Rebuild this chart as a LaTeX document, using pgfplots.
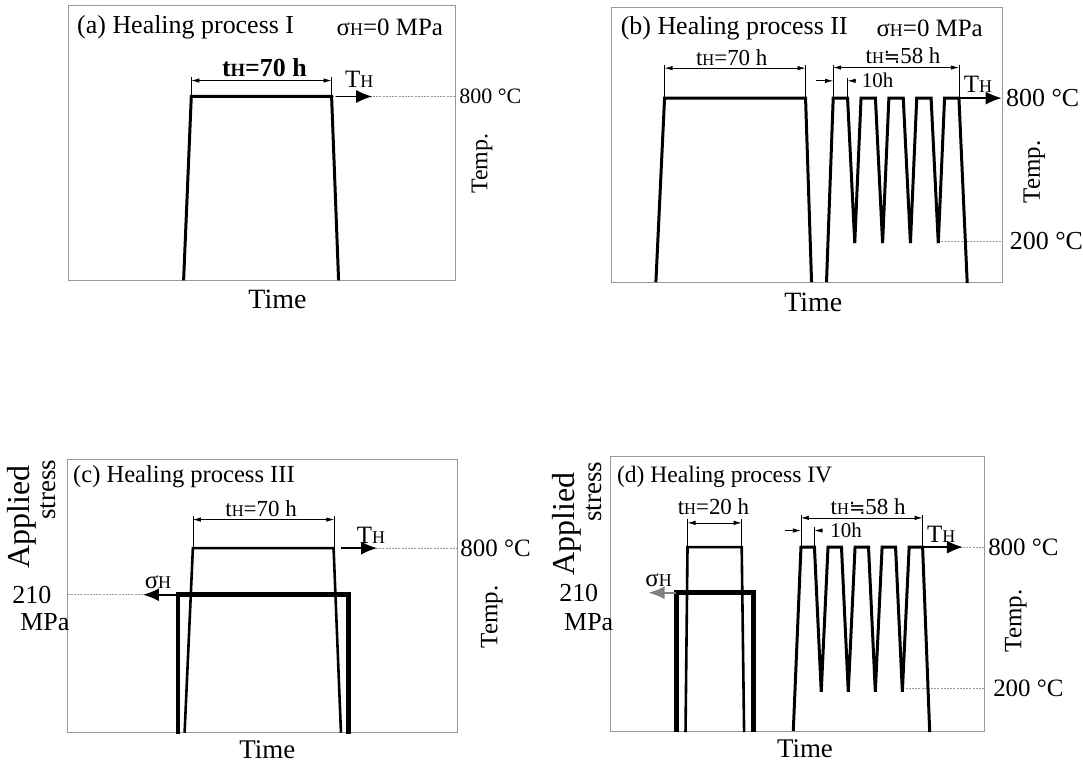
\documentclass[border=0pt]{standalone}
\usepackage{fontspec}
\setmainfont{Liberation Serif}
\newfontfamily\dvs{DejaVu Sans}
\usepackage{graphicx}
\usepackage{pgfplots}
\pgfplotsset{compat=1.18}
\usetikzlibrary{arrows.meta}

\newcommand\fs[1]{\fontsize{#1}{#1}\selectfont}
\newcommand\sH{\scalebox{0.72}{H}}
\newcommand\approxeq{{\dvs\scalebox{0.85}{≒}}}

% axis units are reference pixels, origin at the lower left of each box
\pgfplotsset{
  panel/.style={scale only axis, anchor=south west, xmin=0, ymin=0,
    axis line style={draw=gray!80, line width=0.5bp}, ticks=none, clip=false},
  temp/.style={black, line width=1.5bp, no marks},
  temp2/.style={black, line width=1.3bp, no marks},
  stress/.style={black, line width=2.3bp, no marks},
}
\tikzset{
  dim/.style={black, line width=0.35bp},
  dimarr/.style={dim, {Latex[length=4bp,width=2.2bp]}-{Latex[length=4bp,width=2.2bp]}},
  onearr/.style={dim, -{Latex[length=4bp,width=2.2bp]}},
  ref/.style={gray!80, line width=0.5bp, dash pattern=on 1bp off 0.6bp},
  bigarr/.style={black, line width=0.8bp, -{Latex[length=8bp,width=6.5bp]}},
}

\begin{document}
\begin{tikzpicture}[every node/.append style={inner sep=0pt}]
\path (0,0) rectangle (541.5bp,-383.5bp);

% (a)
\begin{axis}[panel, at={(34.15bp,-140.5bp)}, width=194.2bp, height=137.5bp,
  xmax=388.4, ymax=275]
\draw[ref] (264,184.3) -- (388.4,184.3);
\addplot[temp] coordinates {(115.7,0) (123.4,184.3) (264,184.3) (271,0)};
\draw[dim] (123.4,184.3) -- (123.4,204) (264,184.3) -- (264,204);
\draw[dimarr] (123.4,200.3) -- (264,200.3);
\node[font=\fs{13bp}\bfseries] at (196.7,213) {t\sH=70 h};
\draw[bigarr] (268.4,184.3) -- (304.7,184.3);
\node[font=\fs{12.5bp}] at (291.7,201) {T\sH};
\node[anchor=west, font=\fs{13bp}] at (8.7,254) {(a) Healing process I};
\node[anchor=west, font=\fs{12.5bp}] at (268.7,254) {σ\sH=0 MPa};
\node[anchor=west, font=\fs{11bp}] at (391.7,184.3) {800 °C};
\node[rotate=90, font=\fs{12bp}] at (414.7,117) {Temp.};
\node[font=\fs{14bp}] at (209.7,-19) {Time};
\end{axis}

% (b)
\begin{axis}[panel, at={(306.65bp,-141.35bp)}, width=195.85bp, height=137.7bp,
  xmax=391.7, ymax=275.4]
\draw[ref] (327,41) -- (391.7,41);
\addplot[temp] coordinates {(44,0) (52.7,184.4) (194,184.4) (200,0)};
\addplot[temp] coordinates {(215,0) (221.7,184.4) (236.1,184.4) (243.3,39)
  (249.6,184.4) (264,184.4) (271.2,39) (277.5,184.4) (291.9,184.4) (299.1,39)
  (305.4,184.4) (319.8,184.4) (327,39) (333.3,184.4) (347.7,184.4) (356,-1)};
\draw[dim] (52.7,184.4) -- (52.7,218) (194,184.4) -- (194,218);
\draw[dimarr] (52.7,214.4) -- (194,214.4);
\node[font=\fs{11.5bp}] at (120,225.4) {t\sH=70 h};
\draw[dim] (221.7,184.4) -- (221.7,218) (347.7,184.4) -- (347.7,218)
  (236.1,184.4) -- (236.1,205);
\draw[dimarr] (221.7,215) -- (347.7,215);
\node[font=\fs{11.5bp}] at (291.7,226.7) {t\sH\approxeq58 h};
\draw[onearr] (204.7,201.7) -- (221.7,201.7);
\draw[onearr] (244.7,201.7) -- (236.1,201.7);
\node[anchor=west, font=\fs{10.5bp}] at (250,201.7) {10h};
\draw[bigarr] (347.7,184.4) -- (390.5,184.4);
\node[font=\fs{12.5bp}] at (366.7,197.7) {T\sH};
\node[anchor=west, font=\fs{13bp}] at (8.4,254.7) {(b) Healing process II};
\node[anchor=west, font=\fs{12.5bp}] at (264.7,254.7) {σ\sH=0 MPa};
\node[anchor=west, font=\fs{13bp}] at (394.7,184.4) {800 °C};
\node[anchor=west, font=\fs{13bp}] at (398.4,41) {200 °C};
\node[rotate=90, font=\fs{12.5bp}] at (423.4,110.2) {Temp.};
\node[font=\fs{14bp}] at (201.7,-20.3) {Time};
\end{axis}

% (c)
\begin{axis}[panel, at={(33.85bp,-367.15bp)}, width=195.3bp, height=137.15bp,
  xmax=390.6, ymax=274.3]
\draw[ref] (274,185) -- (390.6,185);
\draw[ref] (0,138.3) -- (75.6,138.3);
\addplot[temp2] coordinates {(117.3,0) (125.6,185) (266.6,185) (274,0)};
\addplot[stress] coordinates {(110.6,-1) (110.6,138.3) (281.3,138.3) (281.3,-1)};
\draw[dim] (125.6,185) -- (125.6,217) (267.3,185) -- (267.3,217);
\draw[dimarr] (125.6,213.6) -- (267.3,213.6);
\node[font=\fs{11.5bp}] at (194,225) {t\sH=70 h};
\draw[bigarr] (274,185) -- (310.3,185);
\node[font=\fs{12.5bp}] at (304,198.3) {T\sH};
\draw[bigarr] (110.6,138.3) -- (75.6,138.3);
\node[font=\fs{12.5bp}] at (90.6,151.3) {σ\sH};
\node[anchor=west, font=\fs{12.3bp}] at (5.3,256.3) {(c) Healing process III};
\node[anchor=west, font=\fs{12.5bp}] at (393.3,185) {800 °C};
\node[rotate=90, font=\fs{12.5bp}] at (425.3,116.3) {Temp.};
\node[font=\fs{13bp}] at (-35.7,138.3) {210};
\node[font=\fs{13bp}] at (-22.7,111.3) {MPa};
\node[rotate=90, font=\fs{16bp}] at (-45.7,216.3) {Applied};
\node[rotate=90, font=\fs{13.5bp}] at (-19.7,243.3) {stress};
\node[font=\fs{13.5bp}] at (200.3,-17.5) {Time};
\end{axis}

% (d)
\begin{axis}[panel, at={(305.85bp,-366.35bp)}, width=187.5bp, height=137.7bp,
  xmax=375, ymax=275.4]
\draw[ref] (292.6,42.7) -- (375,42.7);
\draw[ref] (353.3,184.4) -- (375,184.4);
\addplot[temp2] coordinates {(75.3,-1) (77.3,184.4) (131.6,184.4) (134,-1)};
\addplot[stress] coordinates {(66,-1) (66,138.7) (143.3,138.7) (143.3,-1)};
\addplot[temp] coordinates {(183.3,0) (191,184.4) (204.5,184.4) (211.3,39.4)
  (218.1,184.4) (231.6,184.4) (238.4,39.4) (245.2,184.4) (258.7,184.4) (265.5,39.4)
  (272.3,184.4) (285.8,184.4) (292.6,39.4) (299.4,184.4) (312.9,184.4) (320,-1)};
\draw[dim] (77.3,184.4) -- (77.3,213) (131.6,184.4) -- (131.6,213);
\draw[dimarr] (77.3,208.7) -- (131.6,208.7);
\node[font=\fs{11.5bp}] at (103.3,225.4) {t\sH=20 h};
\draw[dim] (191,184.4) -- (191,217) (312.9,184.4) -- (312.9,217)
  (204.5,184.4) -- (204.5,205);
\draw[dimarr] (191,213.7) -- (312.9,213.7);
\node[font=\fs{11.5bp}] at (258.3,225.4) {t\sH\approxeq58 h};
\draw[onearr] (175,201) -- (191,201);
\draw[onearr] (213.3,201) -- (204.5,201);
\node[anchor=west, font=\fs{10.5bp}] at (220,201) {10h};
\draw[bigarr] (312.9,184.4) -- (353.3,184.4);
\node[font=\fs{12.5bp}] at (331.6,197.7) {T\sH};
\draw[bigarr, draw=gray] (66,138.7) -- (38.3,138.7);
\node[font=\fs{12.5bp}] at (48.3,151) {σ\sH};
\node[anchor=west, font=\fs{11.8bp}] at (6.3,254.7) {(d) Healing process IV};
\node[anchor=west, font=\fs{12.5bp}] at (378.3,184.4) {800 °C};
\node[anchor=west, font=\fs{12.5bp}] at (383.3,42.7) {200 °C};
\node[rotate=90, font=\fs{12.5bp}] at (406.3,110.7) {Temp.};
\node[font=\fs{13bp}] at (-31.7,138.7) {210};
\node[font=\fs{13bp}] at (-21.7,109.7) {MPa};
\node[rotate=90, font=\fs{16bp}] at (-43.7,207.7) {Applied};
\node[rotate=90, font=\fs{13.5bp}] at (-16.7,239.7) {stress};
\node[font=\fs{13.5bp}] at (195,-17.5) {Time};
\end{axis}
\end{tikzpicture}
\end{document}
